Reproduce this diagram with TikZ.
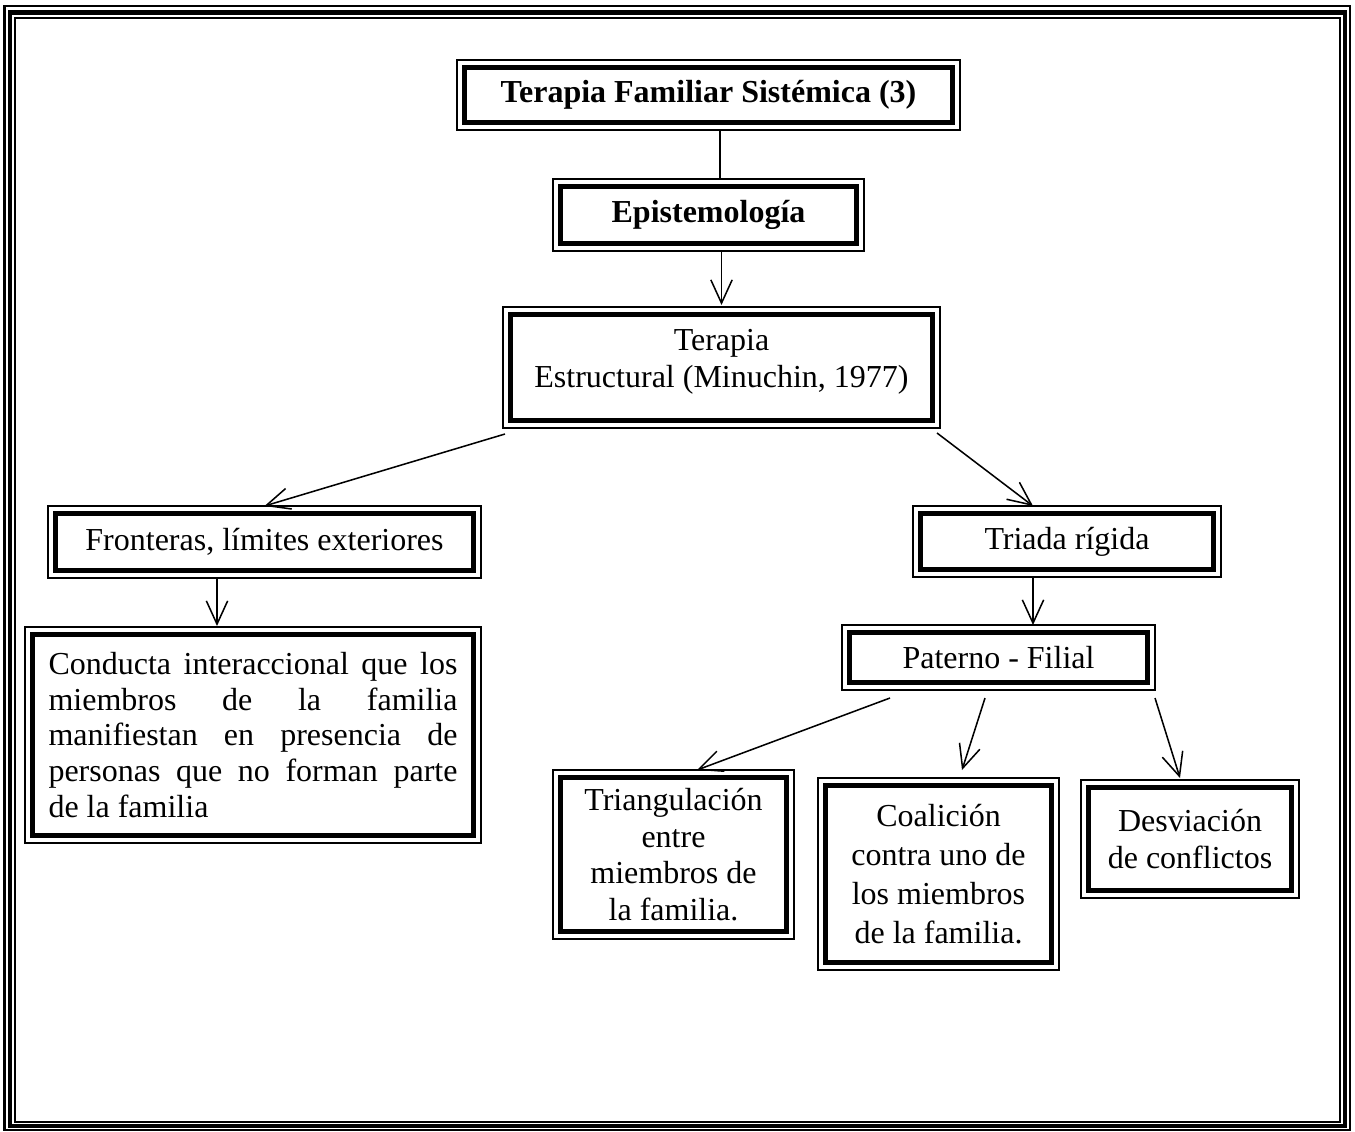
\documentclass[tikz,border=0pt]{standalone}
\usepackage{fontspec}
\setmainfont{Liberation Serif}
\usetikzlibrary{arrows.meta,calc}

\begin{document}
\begin{tikzpicture}[x=0.75pt,y=-0.75pt,
  every node/.style={inner sep=0pt, outer sep=0pt},
  % framed box: thin outer rule, small gap, heavy inner rule
  framed/.style 2 args={draw, line width=0.9pt, rectangle,
    minimum width=#1*0.75pt, minimum height=#2*0.75pt,
    path picture={\draw[line width=3.6pt]
      ([shift={(5.6pt,-5.6pt)}]path picture bounding box.north west) rectangle
      ([shift={(-5.6pt,5.6pt)}]path picture bounding box.south east);}},
  txt/.style={font=\fontsize{24}{#1}\selectfont, align=center},
  txt/.default=27.5pt,
  link/.style={line width=1.15pt},
  arrow/.style={link, -{Straight Barb[length=17.5pt,width=16pt,line width=1.15pt]}},
]
\useasboundingbox (0,0) rectangle (1355,1131);

% page border
\draw[line width=1.9pt] (4.5,6) rectangle (1350,1130);
\draw[line width=3.2pt] (10,12.5) rectangle (1345,1126);
\draw[line width=1.5pt] (15,18) rectangle (1340,1122);

% boxes
\node[framed={503}{70}, txt] (title) at (708.5,95) {\textbf{Terapia Familiar Sistémica (3)}};
\node[framed={311}{72}, txt] (epi) at (708.5,215) {\textbf{Epistemología}};
\node[framed={437}{121}, txt=27.75pt] (ter) at (721.5,367.5)
  {Terapia\\Estructural (Minuchin, 1977)\rule[-14pt]{0pt}{14pt}};
\node[framed={433}{72}, txt] (fro) at (264.5,542) {Fronteras, límites exteriores};
\node[framed={456}{216}, font=\fontsize{24}{26.8pt}\selectfont, align=justify,
      text width=306.75pt] (con) at (253,735)
  {\hyphenpenalty=10000 Conducta interaccional que los\linebreak miembros de la familia\linebreak manifiestan en presencia de\linebreak personas que no forman parte\linebreak de la familia};
\node[framed={308}{71}, txt] (tri) at (1067,541.5) {Triada rígida};
\node[framed={313}{65}, txt] (pat) at (998.5,657.5) {Paterno - Filial};
\node[framed={241}{169}, txt=27.5pt] (tg) at (673.5,854.5) {Triangulación\\entre\\miembros de\\la familia.};
\node[framed={241}{192}, txt=29.25pt] (co) at (938.5,874) {Coalición\\contra uno de\\los miembros\\de la familia.};
\node[framed={218}{118}, txt=27.75pt] (de) at (1190,839) {Desviación\\de conflictos};

% connectors
\draw[link] ($(title.south)+(11.5,0)$) -- ($(epi.north)+(11.5,0)$);
\draw[arrow] (epi.south -| ter.north) -- ($(ter.north)+(0,-2)$);
\draw[arrow] ($(ter.south west)+(2,6)$) -- (fro.north);
\draw[arrow] ($(ter.south east)+(-3,5)$) -- ($(tri.north)+(-34,0)$);
\draw[arrow] ($(fro.south)+(-47.5,0)$) -- ($(con.north)+(-36,-1)$);
\draw[arrow] ($(tri.south)+(-34,0)$) -- ($(pat.north)+(34.5,0)$);
\draw[arrow] ($(pat.south)+(-108.5,8)$) -- ($(tg.north)+(23.5,0)$);
\draw[arrow] ($(pat.south)+(-13.5,8)$) -- ($(co.north)+(23.5,-8)$);
\draw[arrow] ($(pat.south east)+(0,8)$) -- ($(de.north)+(-10,-2)$);
\end{tikzpicture}
\end{document}
